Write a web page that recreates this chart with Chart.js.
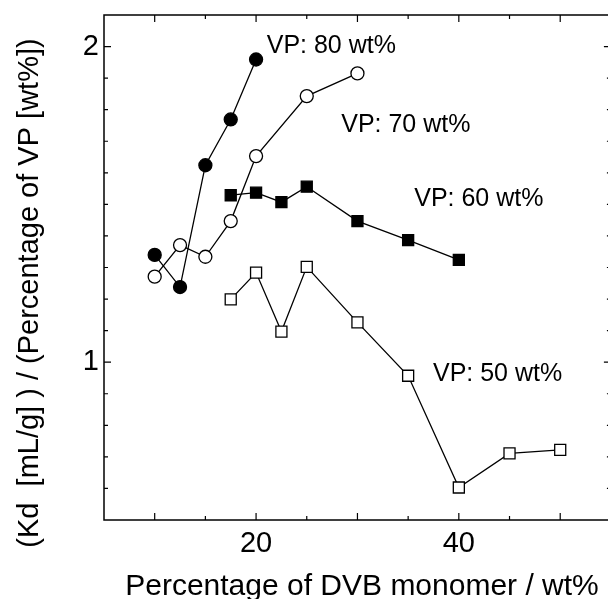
<!DOCTYPE html>
<html>
<head>
<meta charset="utf-8">
<script src="https://cdn.jsdelivr.net/npm/chart.js@4"></script>
<style>
  html, body { margin: 0; padding: 0; overflow: hidden; background: #fff; }
  #wrap { position: absolute; left: 0; top: 0; width: 620px; height: 599px; }
</style>
</head>
<body>
<div id="wrap"><canvas id="chart" width="620" height="599"></canvas></div>
<script>
// DVB percentage (x) and Kd / VP percentage (y) for each VP loading
const dvb80 = [10, 12.5, 15, 17.5, 20];
const kd80 = [1.34, 1.238, 1.624, 1.769, 1.959];

const dvb70 = [10, 12.5, 15, 17.5, 20, 25, 30];
const kd70 = [1.271, 1.371, 1.334, 1.447, 1.653, 1.843, 1.915];

const dvb60 = [17.5, 20, 22.5, 25, 30, 35, 40];
const kd60 = [1.529, 1.537, 1.507, 1.556, 1.447, 1.387, 1.324];

const dvb50 = [17.5, 20, 22.5, 25, 30, 35, 40, 45, 50];
const kd50 = [1.199, 1.284, 1.097, 1.302, 1.126, 0.957, 0.603, 0.711, 0.722];

const xTickLabels = [20, 40];
const yTickLabels = [1, 2];

const xTitle = 'Percentage of DVB monomer / wt%';
const yTitle = '(Kd  [mL/g] ) / (Percentage of VP [wt%])';

// series labels, anchored at data coordinates (left edge, vertical middle)
const noteText = ['VP: 80 wt%', 'VP: 70 wt%', 'VP: 60 wt%', 'VP: 50 wt%'];
const noteX = [21.05, 28.4, 35.6, 37.45];
const noteY = [2.0, 1.75, 1.516, 0.962];

const FONT = "'Liberation Sans', Arial, sans-serif";

function pts(xs, ys) {
    return xs.map((x, i) => ({ x: x, y: ys[i] }));
}

function series(label, xs, ys, style, filled, radius) {
    return {
        label: label,
        data: pts(xs, ys),
        borderColor: '#000',
        borderWidth: 1.3,
        pointStyle: style,
        pointRadius: radius,
        pointBorderWidth: 1.3,
        pointBorderColor: '#000',
        pointBackgroundColor: filled ? '#000' : '#fff',
        tension: 0,
        fill: false
    };
}

// frame, inward tick marks on all four sides, axis titles and the series notes
const framePlugin = {
    id: 'frame',
    afterDatasetsDraw(chart) {
        const ctx = chart.ctx;
        const a = chart.chartArea;
        const xs = chart.scales.x;
        const ys = chart.scales.y;
        ctx.save();
        ctx.strokeStyle = '#000';
        ctx.lineWidth = 1.5;
        ctx.strokeRect(a.left, a.top, a.right - a.left, a.bottom - a.top);

        ctx.lineWidth = 1.2;
        ctx.beginPath();
        xs.ticks.forEach(t => {
            const px = xs.getPixelForValue(t.value);
            if (px <= a.left + 1 || px >= a.right - 1) return;
            const len = Math.abs(t.value % 10) < 1e-6 ? 7 : 4;
            ctx.moveTo(px, a.bottom);
            ctx.lineTo(px, a.bottom - len);
            ctx.moveTo(px, a.top);
            ctx.lineTo(px, a.top + len);
        });
        ys.ticks.forEach(t => {
            const py = ys.getPixelForValue(t.value);
            if (py <= a.top + 1 || py >= a.bottom - 1) return;
            const len = Math.abs(t.value - Math.round(t.value)) < 1e-6 ? 7 : 4;
            ctx.moveTo(a.left, py);
            ctx.lineTo(a.left + len, py);
            ctx.moveTo(a.right, py);
            ctx.lineTo(a.right - len, py);
        });
        ctx.stroke();

        ctx.fillStyle = '#000';
        ctx.font = '25px ' + FONT;
        ctx.textAlign = 'left';
        ctx.textBaseline = 'middle';
        noteText.forEach((s, i) => {
            ctx.fillText(s, xs.getPixelForValue(noteX[i]), ys.getPixelForValue(noteY[i]));
        });

        // axis titles
        ctx.font = '30px ' + FONT;
        ctx.textAlign = 'center';
        ctx.textBaseline = 'alphabetic';
        ctx.fillText(xTitle, 362, 595);

        ctx.font = '29px ' + FONT;
        ctx.translate(30, 293);
        ctx.rotate(-Math.PI / 2);
        ctx.textBaseline = 'middle';
        ctx.fillText(yTitle, 0, 0);
        ctx.restore();
    }
};

new Chart(document.getElementById('chart'), {
    type: 'line',
    data: {
        datasets: [
            series('VP: 80 wt%', dvb80, kd80, 'circle', true, 6.5),
            series('VP: 70 wt%', dvb70, kd70, 'circle', false, 6.5),
            series('VP: 60 wt%', dvb60, kd60, 'rect', true, 7.8),
            series('VP: 50 wt%', dvb50, kd50, 'rect', false, 7.8)
        ]
    },
    options: {
        responsive: false,
        animation: false,
        layout: { padding: { top: 15, right: 6.6, left: 0, bottom: 0 } },
        plugins: {
            legend: { display: false },
            tooltip: { enabled: false }
        },
        scales: {
            x: {
                type: 'linear',
                min: 5,
                max: 55,
                grid: { display: false, drawTicks: false },
                border: { display: false },
                ticks: {
                    stepSize: 5,
                    maxTicksLimit: 100,
                    autoSkip: false,
                    maxRotation: 0,
                    padding: 7,
                    color: '#000',
                    font: { family: FONT, size: 29 },
                    callback: v => xTickLabels.includes(v) ? String(v) : ''
                },
                afterFit: s => {
                    s.height = 79;
                    s.paddingLeft = 0;
                    s.paddingRight = 0;
                }
            },
            y: {
                type: 'linear',
                min: 0.5,
                max: 2.1,
                grid: { display: false, drawTicks: false },
                border: { display: false },
                ticks: {
                    stepSize: 0.1,
                    maxTicksLimit: 100,
                    autoSkip: false,
                    padding: 5,
                    color: '#000',
                    font: { family: FONT, size: 29 },
                    callback: v => {
                        const r = Math.round(v);
                        return Math.abs(v - r) < 1e-6 && yTickLabels.includes(r) ? String(r) : '';
                    }
                },
                afterFit: s => {
                    s.width = 104;
                    s.paddingTop = 0;
                    s.paddingBottom = 0;
                }
            }
        }
    },
    plugins: [framePlugin]
});
</script>
</body>
</html>
